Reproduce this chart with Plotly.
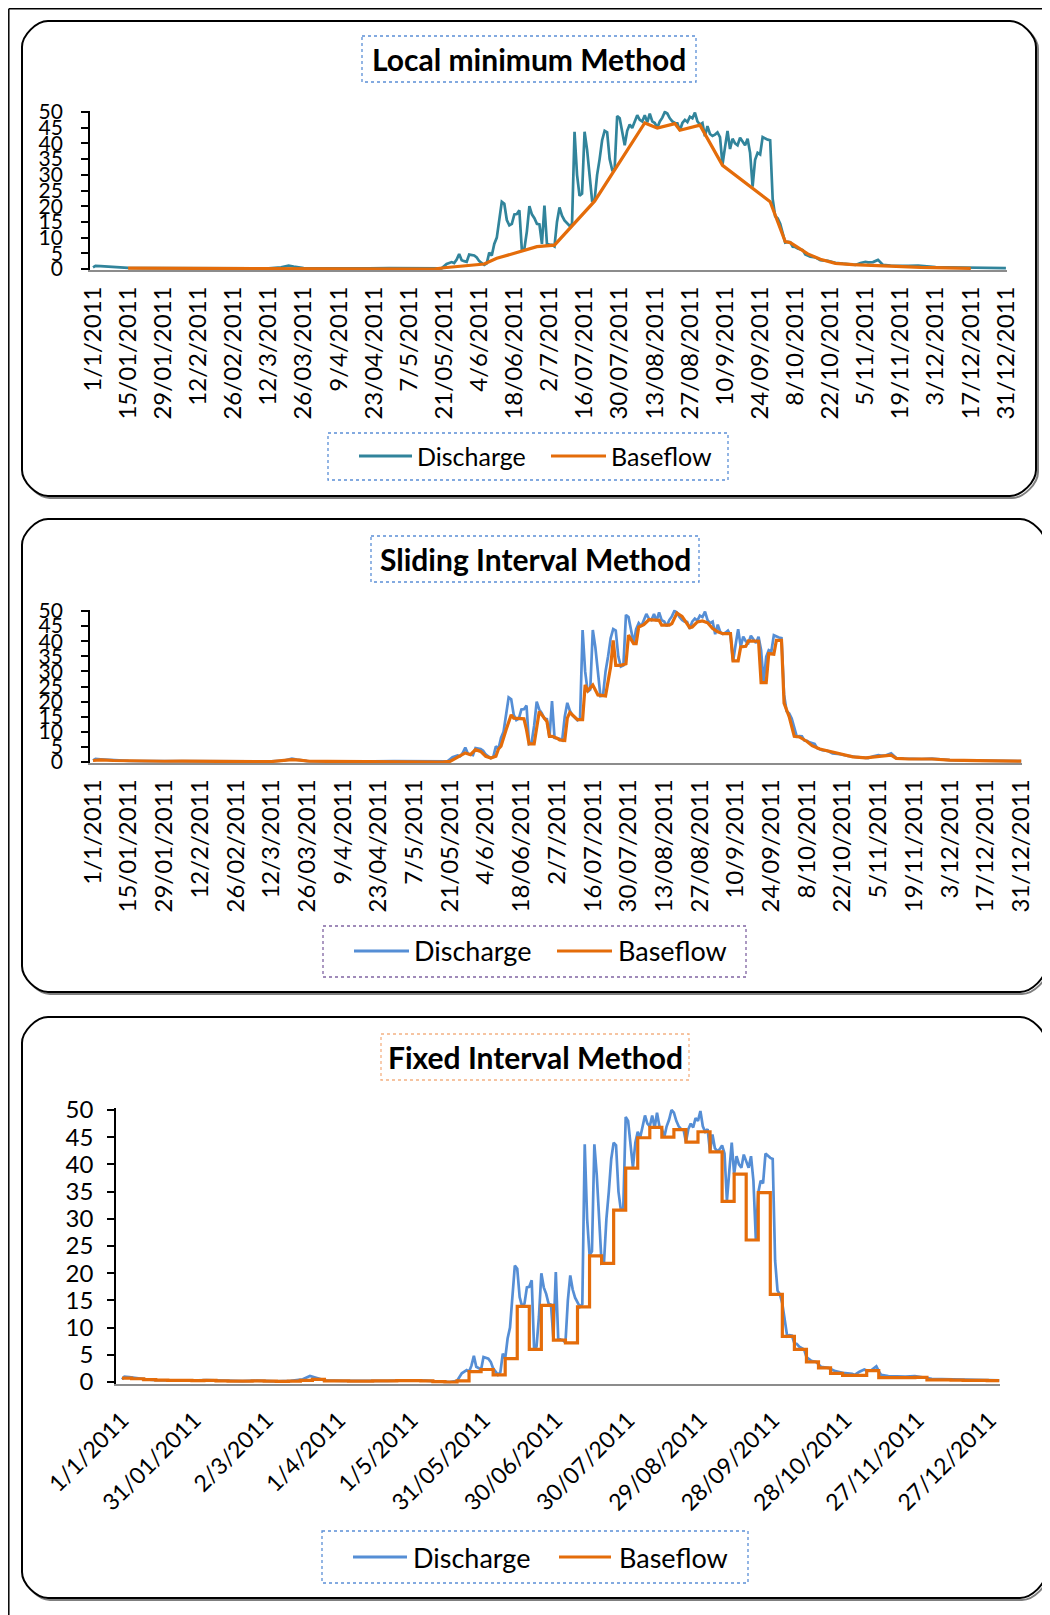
import plotly.graph_objects as go

# ---------------- data (day index: 0 = 1 Jan 2011) ----------------
Q_DAY = [0, 1, 3, 6, 10, 14, 20, 28, 35, 42, 50, 56, 64, 70, 75, 78, 80, 84, 92, 100,
         110, 118, 126, 132, 136, 139, 141, 143, 144, 145, 146, 147, 148, 149, 150, 151,
         152, 153, 154, 155, 156, 157, 158, 159, 160, 161, 162, 163, 164, 165, 166, 167,
         168, 169, 170, 171, 172, 173, 174, 175, 176, 177, 178, 179, 180, 181, 182, 183,
         184, 185, 186, 187, 188, 189, 190, 191, 192, 193, 194, 195, 196, 197, 198, 199,
         200, 201, 202, 203, 204, 205, 206, 207, 208, 209, 210, 211, 212, 213, 214, 215,
         216, 217, 218, 219, 220, 221, 222, 223, 224, 225, 226, 227, 228, 229, 230, 231,
         232, 233, 234, 235, 236, 237, 238, 239, 240, 241, 242, 243, 244, 245, 246, 247,
         248, 249, 250, 251, 252, 253, 254, 255, 256, 257, 258, 259, 260, 261, 262, 263,
         264, 265, 266, 267, 268, 269, 270, 271, 272, 273, 274, 275, 276, 277, 278, 279,
         280, 281, 282, 283, 284, 285, 286, 288, 290, 293, 296, 299, 303, 304, 306, 308,
         309, 311, 313, 314, 315, 318, 321, 325, 329, 333, 336, 340, 347, 355, 364]
Q_VAL = [0.5, 1.0, 0.9, 0.7, 0.5, 0.35, 0.3, 0.25, 0.35, 0.2, 0.15, 0.25, 0.1, 0.2, 0.5, 1.1, 0.8, 0.3, 0.2, 0.15,
         0.2, 0.3, 0.25, 0.05, 0.0, 0.2, 1.6, 2.2, 1.9, 3.0, 4.8, 2.8, 2.5, 2.3, 4.6, 4.4,
         4.3, 3.7, 2.5, 1.9, 1.3, 1.8, 5.2, 4.3, 8.0, 10.0, 15.0, 21.4, 20.8, 15.6, 13.9, 14.4,
         17.4, 17.5, 18.7, 6.0, 6.5, 12.0, 20.0, 17.4, 16.2, 14.4, 14.2, 8.0, 20.2, 8.0, 7.8, 7.7,
         7.2, 15.0, 19.6, 17.0, 15.5, 14.5, 13.8, 14.3, 43.7, 30.0, 23.3, 24.0, 43.7, 38.0, 29.6, 21.8,
         22.0, 30.0, 35.0, 41.0, 44.0, 43.5, 35.0, 31.6, 32.0, 48.7, 48.0, 44.0, 39.4, 44.0, 46.0, 44.9,
         47.3, 49.0, 47.5, 47.0, 49.0, 46.7, 49.5, 47.0, 46.5, 45.0, 47.0, 48.2, 50.0, 49.5, 48.0, 47.0,
         46.5, 46.4, 44.1, 46.5, 47.5, 46.8, 48.5, 48.0, 49.8, 47.0, 46.0, 46.5, 42.3, 45.5, 43.0, 42.4,
         42.8, 43.5, 42.0, 33.3, 38.8, 44.0, 38.2, 41.5, 40.0, 39.4, 41.8, 40.5, 39.4, 41.5, 37.0, 26.2,
         34.8, 37.0, 36.5, 42.0, 41.5, 41.2, 41.0, 22.3, 16.8, 16.1, 14.4, 11.3, 8.4, 8.6, 8.5, 7.1,
         7.0, 6.5, 6.2, 6.0, 4.6, 4.3, 3.9, 3.7, 2.8, 2.6, 2.0, 1.7, 1.5, 1.3, 1.9, 2.3,
         2.1, 2.2, 2.9, 2.0, 1.3, 1.1, 1.0, 1.0, 1.1, 0.8, 0.6, 0.55, 0.5, 0.4, 0.3]

# Local minimum method baseflow (vertices)
LM_DAY = [14, 30, 50, 64, 84, 110, 125, 136, 140, 156, 161, 171, 177, 184, 200, 220, 225,
          232, 234, 242, 251, 270, 272, 274, 276, 278, 281, 285, 290, 296, 303, 316, 330, 350]
LM_VAL = [0.25, 0.2, 0.15, 0.1, 0.2, 0.2, 0.15, 0.0, 0.4, 1.6, 3.4, 5.8, 7.1, 7.6, 21.6, 46.5, 44.9,
          46.3, 44.2, 45.8, 33.0, 21.4, 17.2, 13.5, 8.7, 8.4, 6.9, 4.8, 3.1, 1.8, 1.4, 1.0, 0.5, 0.2]

# Sliding interval method baseflow
SI_DAY = [0, 3, 8, 14, 20, 28, 35, 42, 50, 56, 64, 70, 75, 78, 81, 85, 92, 100, 110, 118, 126, 132,
          137, 140, 142, 144, 146, 148, 150, 152, 154, 156, 158, 159, 160, 162, 164, 165, 167, 169,
          170, 171, 173, 174, 175, 176, 178, 179, 180, 182, 183, 185, 186, 187, 188, 190, 192, 193,
          194, 196, 198, 201, 203, 204, 205, 207, 209, 210, 212, 213, 214, 216, 218, 220, 222, 223,
          226, 227, 229, 231, 232, 234, 235, 237, 239, 241, 243, 245, 247, 250, 251, 253, 254, 256,
          257, 261, 262, 264, 265, 267, 268, 270, 271, 273, 275, 277, 280, 282, 285, 289, 293, 298,
          303, 306, 309, 313, 315, 320, 329, 336, 347, 355, 364]
SI_VAL = [0.5, 0.7, 0.5, 0.35, 0.3, 0.25, 0.3, 0.2, 0.15, 0.2, 0.1, 0.15, 0.4, 0.8, 0.6, 0.25, 0.2, 0.15, 0.2, 0.25, 0.2, 0.0,
          0.0, 0.2, 1.2, 1.9, 3.0, 2.4, 4.1, 3.5, 1.9, 1.3, 1.9, 4.3, 5.2, 10.7, 15.6, 14.5, 14.4, 14.3,
          10.7, 6.0, 6.0, 10.7, 16.7, 15.6, 13.4, 8.5, 8.5, 7.9, 7.3, 7.1, 14.5, 16.4, 15.5, 14.0, 14.0, 25.5,
          23.6, 25.5, 22.2, 21.9, 31.5, 40.3, 32.0, 32.0, 32.5, 42.0, 39.2, 39.2, 44.7, 45.5, 47.1, 46.9, 46.9, 45.3,
          45.3, 45.8, 49.3, 48.2, 46.8, 44.5, 44.7, 46.4, 46.7, 46.1, 44.2, 43.1, 42.5, 42.5, 33.5, 33.5, 38.1, 38.3,
          40.1, 40.0, 26.3, 26.3, 35.9, 35.7, 40.3, 40.3, 19.5, 15.0, 8.5, 8.3, 6.8, 5.4, 4.3, 3.5, 2.5, 1.7,
          1.4, 1.6, 2.0, 2.3, 1.2, 1.0, 1.0, 0.6, 0.45, 0.35, 0.3]

# Fixed interval method baseflow (value of each 5-day block, by block start day)
FI_DAY = [0, 4, 9, 14, 19, 24, 29, 34, 39, 44, 49, 54, 59, 64, 69, 74, 79, 84, 89, 94, 99, 104,
          109, 114, 119, 124, 129, 134, 139, 144, 149, 154, 159, 164, 169, 174, 179, 184, 189, 194,
          199, 204, 209, 214, 219, 224, 229, 234, 239, 244, 249, 254, 259, 264, 269, 274, 279, 284,
          289, 294, 299, 304, 309, 314, 319, 324, 329, 334, 339, 344, 349, 354, 359, 364]
FI_VAL = [0.7, 0.6, 0.45, 0.35, 0.3, 0.3, 0.25, 0.3, 0.2, 0.15, 0.15, 0.2, 0.15, 0.1, 0.15, 0.3, 0.5, 0.2, 0.2, 0.15, 0.15, 0.2,
          0.2, 0.25, 0.25, 0.2, 0.05, 0.0, 0.2, 1.9, 2.3, 1.3, 4.3, 13.9, 6.0, 14.1, 7.7, 7.2, 13.8, 23.2,
          21.8, 31.6, 39.3, 44.9, 46.8, 45.0, 46.4, 44.1, 46.0, 42.3, 33.2, 38.2, 26.1, 34.8, 16.1, 8.4, 6.0, 3.7,
          2.6, 1.6, 1.2, 1.2, 2.1, 0.8, 0.8, 0.8, 0.85, 0.4, 0.4, 0.35, 0.3, 0.3, 0.25, 0.25]

TICK14_DAY = list(range(0, 365, 14))
TICK14_TXT = ["1/1/2011", "15/01/2011", "29/01/2011", "12/2/2011", "26/02/2011", "12/3/2011",
              "26/03/2011", "9/4/2011", "23/04/2011", "7/5/2011", "21/05/2011", "4/6/2011",
              "18/06/2011", "2/7/2011", "16/07/2011", "30/07/2011", "13/08/2011", "27/08/2011",
              "10/9/2011", "24/09/2011", "8/10/2011", "22/10/2011", "5/11/2011", "19/11/2011",
              "3/12/2011", "17/12/2011", "31/12/2011"]
TICK30_DAY = list(range(0, 361, 30))
TICK30_TXT = ["1/1/2011", "31/01/2011", "2/3/2011", "1/4/2011", "1/5/2011", "31/05/2011",
              "30/06/2011", "30/07/2011", "29/08/2011", "28/09/2011", "28/10/2011",
              "27/11/2011", "27/12/2011"]

TITLES = ["Local minimum Method", "Sliding Interval Method", "Fixed Interval Method"]
SERIES = ["Discharge", "Baseflow"]

# ---------------- styling ----------------
W, H = 1050, 1615
OFF = 8  # page body margin of the html output
FONT = "Lato"
ORANGE = "#E46C0A"
TEAL = "#31849B"
BLUE = "#558ED5"


def PX(x):
    return (x - OFF) / W


def PY(y):
    return 1 - (y - OFF) / H


fig = go.Figure()

panels = [
    dict(sfx="", qcol=TEAL, bx=LM_DAY, by=LM_VAL, shape="linear",
         a=93, b=2.508, rmin=-1.2, rmax=364.5, y0=269, y50=112,
         tv=TICK14_DAY, tt=TICK14_TXT, ang=-90, xfs=24, yfs=21, xstand=5, ystand=14),
    dict(sfx="2", qcol=BLUE, bx=SI_DAY, by=SI_VAL, shape="linear",
         a=93, b=2.55, rmin=-1.2, rmax=364.5, y0=762, y50=611,
         tv=TICK14_DAY, tt=TICK14_TXT, ang=-90, xfs=24, yfs=21, xstand=5, ystand=14),
    dict(sfx="3", qcol=BLUE, bx=FI_DAY, by=FI_VAL, shape="hv",
         a=122, b=2.41, rmin=-2.5, rmax=364.5, y0=1382, y50=1110,
         tv=TICK30_DAY, tt=TICK30_TXT, ang=-45, xfs=23, yfs=24, xstand=12, ystand=9),
]

for p in panels:
    xa = "x" + p["sfx"]
    ya = "y" + p["sfx"]
    fig.add_trace(go.Scatter(x=Q_DAY, y=Q_VAL, mode="lines", name=SERIES[0],
                             line=dict(color=p["qcol"], width=2.7),
                             xaxis=xa, yaxis=ya, showlegend=False))
    fig.add_trace(go.Scatter(x=p["bx"], y=p["by"], mode="lines", name=SERIES[1],
                             line=dict(color=ORANGE, width=3.2, shape=p["shape"]),
                             xaxis=xa, yaxis=ya, showlegend=False))
    k = (p["y0"] - p["y50"]) / 50.0
    lo, hi = -0.35, 50.4
    ybot = p["y0"] - lo * k
    ytop = p["y0"] - hi * k
    xl = p["a"] + p["b"] * p["rmin"]
    xr = p["a"] + p["b"] * p["rmax"]
    xkey = "xaxis" + p["sfx"]
    ykey = "yaxis" + p["sfx"]
    fig.update_layout({
        xkey: dict(domain=[PX(xl), PX(xr)], range=[p["rmin"], p["rmax"]], anchor=ya,
                   automargin=False,
                   showline=True, linecolor="#8C8C8C", linewidth=1.6, showgrid=False,
                   zeroline=False, tickmode="array", tickvals=p["tv"], ticktext=p["tt"],
                   tickangle=p["ang"], ticks="", ticklabelstandoff=p["xstand"],
                   tickfont=dict(family=FONT, size=p["xfs"], color="black")),
        ykey: dict(domain=[PY(ybot), PY(ytop)], range=[lo, hi], anchor=xa,
                   automargin=False,
                   showline=True, linecolor="black", linewidth=1.6, showgrid=False,
                   zeroline=False, tickmode="array", tickvals=list(range(0, 51, 5)),
                   ticks="outside", ticklen=7, tickwidth=1.6, tickcolor="black",
                   ticklabelstandoff=p["ystand"],
                   tickfont=dict(family=FONT, size=p["yfs"], color="black")),
    })


def rrect(x0, y0, x1, y1, r):
    c = 0.45 * r
    pts = [
        f"M{PX(x0 + r)},{PY(y0)}",
        f"L{PX(x1 - r)},{PY(y0)}",
        f"C{PX(x1 - r + c)},{PY(y0)} {PX(x1)},{PY(y0 + r - c)} {PX(x1)},{PY(y0 + r)}",
        f"L{PX(x1)},{PY(y1 - r)}",
        f"C{PX(x1)},{PY(y1 - r + c)} {PX(x1 - r + c)},{PY(y1)} {PX(x1 - r)},{PY(y1)}",
        f"L{PX(x0 + r)},{PY(y1)}",
        f"C{PX(x0 + r - c)},{PY(y1)} {PX(x0)},{PY(y1 - r + c)} {PX(x0)},{PY(y1 - r)}",
        f"L{PX(x0)},{PY(y0 + r)}",
        f"C{PX(x0)},{PY(y0 + r - c)} {PX(x0 + r - c)},{PY(y0)} {PX(x0 + r)},{PY(y0)}",
        "Z",
    ]
    return " ".join(pts)


shapes = []
annotations = []

# outer frame (top and left edges visible)
shapes.append(dict(type="line", xref="paper", yref="paper", x0=PX(8.8), x1=PX(1060), y0=PY(8.8), y1=PY(8.8),
                   line=dict(color="black", width=1.5)))
shapes.append(dict(type="line", xref="paper", yref="paper", x0=PX(8.8), x1=PX(8.8), y0=PY(8.8), y1=PY(1625),
                   line=dict(color="black", width=1.5)))

boxes = [
    dict(rect=(22, 21, 1036, 496), tb=(362, 36, 696, 82), tcol="#5B8FD6", ty=59,
         lb=(328, 433, 728, 480), lcol="#5B8FD6", qcol=TEAL, lfs=25,
         s1=(359, 412), t1=415, s2=(551, 606), t2=609, ly=456),
    dict(rect=(22, 519, 1046, 992), tb=(371, 536, 699, 582), tcol="#5B8FD6", ty=559,
         lb=(323, 926, 746, 977), lcol="#8064A2", qcol=BLUE, lfs=27,
         s1=(354, 409), t1=412, s2=(557, 612), t2=616, ly=951),
    dict(rect=(22, 1017, 1046, 1598), tb=(381, 1034, 689, 1080), tcol="#F4B183", ty=1057,
         lb=(322, 1531, 748, 1583), lcol="#5B8FD6", qcol=BLUE, lfs=27,
         s1=(353, 407), t1=411, s2=(559, 611), t2=617, ly=1557),
]

for i, bx in enumerate(boxes):
    x0, y0, x1, y1 = bx["rect"]
    shapes.append(dict(type="path", xref="paper", yref="paper", path=rrect(x0 + 2, y0 + 2, x1 + 2, y1 + 2, 26),
                       line=dict(color="#7F7F7F", width=2), layer="below"))
    shapes.append(dict(type="path", xref="paper", yref="paper", path=rrect(x0, y0, x1, y1, 26),
                       line=dict(color="black", width=2), fillcolor="white", layer="below"))
    tx0, ty0, tx1, ty1 = bx["tb"]
    shapes.append(dict(type="rect", xref="paper", yref="paper", x0=PX(tx0), x1=PX(tx1), y0=PY(ty0), y1=PY(ty1),
                       line=dict(color=bx["tcol"], width=1.3, dash="dot")))
    annotations.append(dict(xref="paper", yref="paper", x=PX((tx0 + tx1) / 2), y=PY(bx["ty"]),
                            text="<b>" + TITLES[i] + "</b>", showarrow=False, xanchor="center", yanchor="middle",
                            font=dict(family=FONT, size=30, color="black")))
    lx0, ly0, lx1, ly1 = bx["lb"]
    shapes.append(dict(type="rect", xref="paper", yref="paper", x0=PX(lx0), x1=PX(lx1), y0=PY(ly0), y1=PY(ly1),
                       line=dict(color=bx["lcol"], width=1.3, dash="dot")))
    ly = bx["ly"]
    shapes.append(dict(type="line", xref="paper", yref="paper", x0=PX(bx["s1"][0]), x1=PX(bx["s1"][1]),
                       y0=PY(ly), y1=PY(ly), line=dict(color=bx["qcol"], width=3.2)))
    shapes.append(dict(type="line", xref="paper", yref="paper", x0=PX(bx["s2"][0]), x1=PX(bx["s2"][1]),
                       y0=PY(ly), y1=PY(ly), line=dict(color=ORANGE, width=3.2)))
    annotations.append(dict(xref="paper", yref="paper", x=PX(bx["t1"]), y=PY(ly), text=SERIES[0],
                            showarrow=False, xanchor="left", yanchor="middle",
                            font=dict(family=FONT, size=bx["lfs"], color="black")))
    annotations.append(dict(xref="paper", yref="paper", x=PX(bx["t2"]), y=PY(ly), text=SERIES[1],
                            showarrow=False, xanchor="left", yanchor="middle",
                            font=dict(family=FONT, size=bx["lfs"], color="black")))

fig.update_layout(width=W, height=H, margin=dict(l=0, r=0, t=0, b=0, pad=0, autoexpand=False),
                  paper_bgcolor="white", plot_bgcolor="rgba(0,0,0,0)",
                  shapes=shapes, annotations=annotations, showlegend=False,
                  font=dict(family=FONT, color="black"))

fig.write_html("out.html")
